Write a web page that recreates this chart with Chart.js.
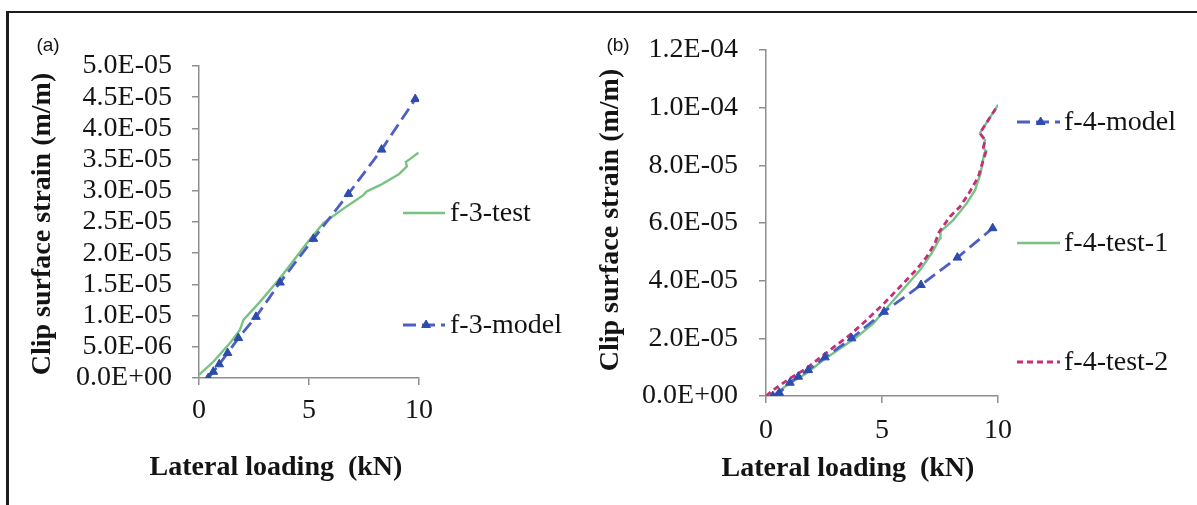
<!DOCTYPE html>
<html><head><meta charset="utf-8">
<script src="https://cdn.jsdelivr.net/npm/chart.js@4.4.1/dist/chart.umd.min.js"></script>
<style>
html,body{margin:0;padding:0;background:#fff;width:1197px;height:505px;overflow:hidden}
#frame{position:absolute;left:6px;top:11px;width:1191px;height:494px;border-top:2px solid #1c1c1c;border-left:3px solid #1c1c1c;box-sizing:border-box}
canvas{position:absolute;top:0}
</style></head><body>
<div id="frame"></div>
<canvas id="ca" width="590" height="505" style="left:0"></canvas>
<canvas id="cb" width="607" height="505" style="left:590px"></canvas>
<script>
// ---------- data ----------
const xTickVals = [0, 5, 10];
const xTickLabels = ['0', '5', '10'];
const yTickValsA = [0, 5e-6, 1e-5, 1.5e-5, 2e-5, 2.5e-5, 3e-5, 3.5e-5, 4e-5, 4.5e-5, 5e-5];
const yTickLabelsA = ['0.0E+00','5.0E-06','1.0E-05','1.5E-05','2.0E-05','2.5E-05','3.0E-05','3.5E-05','4.0E-05','4.5E-05','5.0E-05'];
const yTickValsB = [0, 2e-5, 4e-5, 6e-5, 8e-5, 1e-4, 1.2e-4];
const yTickLabelsB = ['0.0E+00','2.0E-05','4.0E-05','6.0E-05','8.0E-05','1.0E-04','1.2E-04'];

const namesA = ['f-3-model', 'f-3-test'];
const namesB = ['f-4-model', 'f-4-test-2', 'f-4-test-1'];
const xTitle = 'Lateral loading  (kN)';
const yTitle = 'Clip surface strain (m/m)';
const panelLabels = ['(a)', '(b)'];

// panel (a)
const xModelA = [0.42, 0.65, 0.92, 1.3, 1.79, 2.59, 3.68, 5.2, 6.79, 8.3, 9.83];
const yModelA = [0, 1.0e-6, 2.2e-6, 4.0e-6, 6.4e-6, 9.8e-6, 15.3e-6, 22.3e-6, 29.5e-6, 36.6e-6, 44.7e-6];
const xTestA = [0, 0.65, 1.41, 1.86, 2.02, 2.77, 3.68, 4.9, 5.65, 6.71, 7.47, 7.62, 8.23, 9.1, 9.45, 9.4, 9.55, 9.97];
const yTestA = [0.5e-6, 2.6e-6, 5.6e-6, 7.7e-6, 9.3e-6, 12.2e-6, 16e-6, 21.6e-6, 24.8e-6, 27.5e-6, 29.3e-6, 29.9e-6, 30.9e-6, 32.7e-6, 33.9e-6, 34.6e-6, 35.0e-6, 36.1e-6];

// panel (b)
const xModelB = [0.29, 0.57, 1.03, 1.39, 1.82, 2.54, 3.69, 5.09, 6.68, 8.25, 9.77];
const yModelB = [0, 1.1e-6, 4.6e-6, 6.7e-6, 9.0e-6, 13.4e-6, 20e-6, 29.2e-6, 38.5e-6, 48e-6, 58.2e-6];
const xTest1B = [0.25, 1.03, 1.75, 2.47, 3.84, 4.63, 5.06, 5.63, 6.64, 7.14, 7.5, 7.52, 8.07, 8.65, 9.01, 9.25, 9.41, 9.48, 9.37, 9.44, 9.22, 9.3, 10];
const yTest1B = [0, 4.4e-6, 7.9e-6, 12.5e-6, 20e-6, 25.2e-6, 29.2e-6, 34.4e-6, 43.7e-6, 49.5e-6, 54.7e-6, 57e-6, 61e-6, 66.8e-6, 71.4e-6, 77.2e-6, 84.2e-6, 85e-6, 86e-6, 88.8e-6, 91.1e-6, 92.2e-6, 100.9e-6];
const xTest2B = [0, 0.32, 1.03, 1.75, 2.47, 3.62, 4.34, 5.06, 5.78, 6.49, 6.93, 7.28, 7.47, 7.93, 8.36, 8.79, 9.15, 9.3, 9.48, 9.37, 9.44, 9.22, 9.3, 10];
const yTest2B = [0, 2.1e-6, 6.1e-6, 9.6e-6, 14.2e-6, 21.2e-6, 26.4e-6, 31.9e-6, 37.9e-6, 43.9e-6, 48.3e-6, 53e-6, 57e-6, 62.2e-6, 65.6e-6, 70.9e-6, 76e-6, 80.1e-6, 84.7e-6, 86e-6, 88.8e-6, 91.1e-6, 92.2e-6, 100.9e-6];

// ---------- styling ----------
const SERIF = '"Liberation Serif", "Times New Roman", serif';
const SANS = '"Liberation Sans", Arial, sans-serif';
const AXIS = '#8e8e8e';
const TXT = '#141414';
const BLUE = '#4d5ec4', BLUE_PT = '#2c4cae', GREEN = '#78c384', MAGENTA = '#c62f78';

const pts = (xs, ys) => xs.map((x, i) => ({x: x, y: ys[i]}));

function makeScales(c) {
  return {
    x: {
      type: 'linear', min: 0, max: 10,
      afterBuildTicks: s => { s.ticks = xTickVals.map(v => ({value: v})); },
      afterFit: s => { s.height = c.xh; },
      ticks: {callback: (v, i) => xTickLabels[i], font: {family: SERIF, size: 28}, color: TXT, padding: c.xpad, maxRotation: 0, autoSkip: false},
      grid: {drawOnChartArea: false, drawTicks: true, tickLength: 7, color: AXIS, lineWidth: 1.5},
      border: {color: AXIS, width: 1.5}
    },
    y: {
      type: 'linear', min: 0, max: c.ymax,
      afterBuildTicks: s => { s.ticks = c.yvals.map(v => ({value: v})); },
      afterFit: s => { s.width = c.yw; },
      ticks: {callback: (v, i) => c.ylabels[i], font: {family: SERIF, size: 28}, color: TXT, padding: c.ypad, autoSkip: false},
      grid: {drawOnChartArea: false, drawTicks: true, tickLength: 7, color: AXIS, lineWidth: 1.5},
      border: {color: AXIS, width: 1.5}
    }
  };
}

const decor = {
  id: 'decor',
  afterDraw(chart, args, o) {
    const ctx = chart.ctx;
    ctx.save();
    ctx.fillStyle = TXT;
    ctx.textAlign = 'center';
    ctx.textBaseline = 'middle';
    ctx.font = 'bold 28px ' + SERIF;
    ctx.fillText(xTitle, o.xt[0], o.xt[1]);
    ctx.save();
    ctx.translate(o.yt[0], o.yt[1]);
    ctx.rotate(-Math.PI / 2);
    ctx.fillText(yTitle, 0, 0);
    ctx.restore();
    ctx.font = '19px ' + SANS;
    ctx.fillText(o.label, o.lp[0], o.lp[1]);
    o.items.forEach(it => {
      const ds = chart.data.datasets[it.ds];
      ctx.save();
      ctx.strokeStyle = ds.borderColor;
      ctx.lineWidth = ds.borderWidth;
      ctx.setLineDash(ds.borderDash || []);
      ctx.beginPath();
      ctx.moveTo(o.lx0, it.y);
      ctx.lineTo(o.lx1, it.y);
      ctx.stroke();
      ctx.restore();
      if (ds.pointRadius > 0) {
        ctx.save();
        ctx.fillStyle = ds.pointBackgroundColor;
        ctx.strokeStyle = ds.pointBorderColor;
        Chart.helpers.drawPoint(ctx, {pointStyle: 'triangle', radius: ds.pointRadius, rotation: 0, borderWidth: 1}, o.lx0 + (o.lx1 - o.lx0) * 0.55, it.y);
        ctx.restore();
      }
      ctx.fillStyle = TXT;
      ctx.textAlign = 'left';
      ctx.font = '28px ' + SERIF;
      ctx.fillText(ds.label, o.tx, it.y + 1);
    });
    ctx.restore();
  }
};

function modelDs(label, xs, ys) {
  return {label: label, data: pts(xs, ys), showLine: true, borderColor: BLUE, borderWidth: 2.8, borderDash: [13, 6],
    pointStyle: 'triangle', pointRadius: 5, pointBackgroundColor: BLUE_PT, pointBorderColor: BLUE_PT, pointBorderWidth: 1, fill: false};
}
function lineDs(label, xs, ys, color, dash, w) {
  return {label: label, data: pts(xs, ys), showLine: true, borderColor: color, borderWidth: w, borderDash: dash, pointRadius: 0, fill: false};
}

const common = {responsive: false, animation: false, events: [], devicePixelRatio: 1};

new Chart(document.getElementById('ca'), {
  type: 'scatter',
  data: {datasets: [
    modelDs(namesA[0], xModelA, yModelA),
    lineDs(namesA[1], xTestA, yTestA, GREEN, [], 2.4)
  ]},
  options: Object.assign({}, common, {
    layout: {padding: {left: 0, top: 66, right: 171, bottom: 0}},
    scales: makeScales({xh: 127, xpad: 9, ymax: 5e-5, yvals: yTickValsA, ylabels: yTickLabelsA, yw: 199, ypad: 20}),
    plugins: {legend: {display: false}, tooltip: {enabled: false},
      decor: {xt: [276, 468], yt: [43, 224], label: panelLabels[0], lp: [48, 46],
        lx0: 403, lx1: 445, tx: 450, items: [{ds: 1, y: 213}, {ds: 0, y: 325}]}}
  }),
  plugins: [decor]
});

new Chart(document.getElementById('cb'), {
  type: 'scatter',
  data: {datasets: [
    modelDs(namesB[0], xModelB, yModelB),
    lineDs(namesB[1], xTest2B, yTest2B, MAGENTA, [6, 4], 2.8),
    lineDs(namesB[2], xTest1B, yTest1B, GREEN, [], 2.4)
  ]},
  options: Object.assign({}, common, {
    layout: {padding: {left: 0, top: 50, right: 199, bottom: 0}},
    scales: makeScales({xh: 109, xpad: 11, ymax: 1.2e-4, yvals: yTickValsB, ylabels: yTickLabelsB, yw: 176, ypad: 21}),
    plugins: {legend: {display: false}, tooltip: {enabled: false},
      decor: {xt: [258, 469], yt: [21, 220], label: panelLabels[1], lp: [28, 46],
        lx0: 427, lx1: 470, tx: 474, items: [{ds: 0, y: 122}, {ds: 2, y: 243}, {ds: 1, y: 362}]}}
  }),
  plugins: [decor]
});
</script></body></html>
